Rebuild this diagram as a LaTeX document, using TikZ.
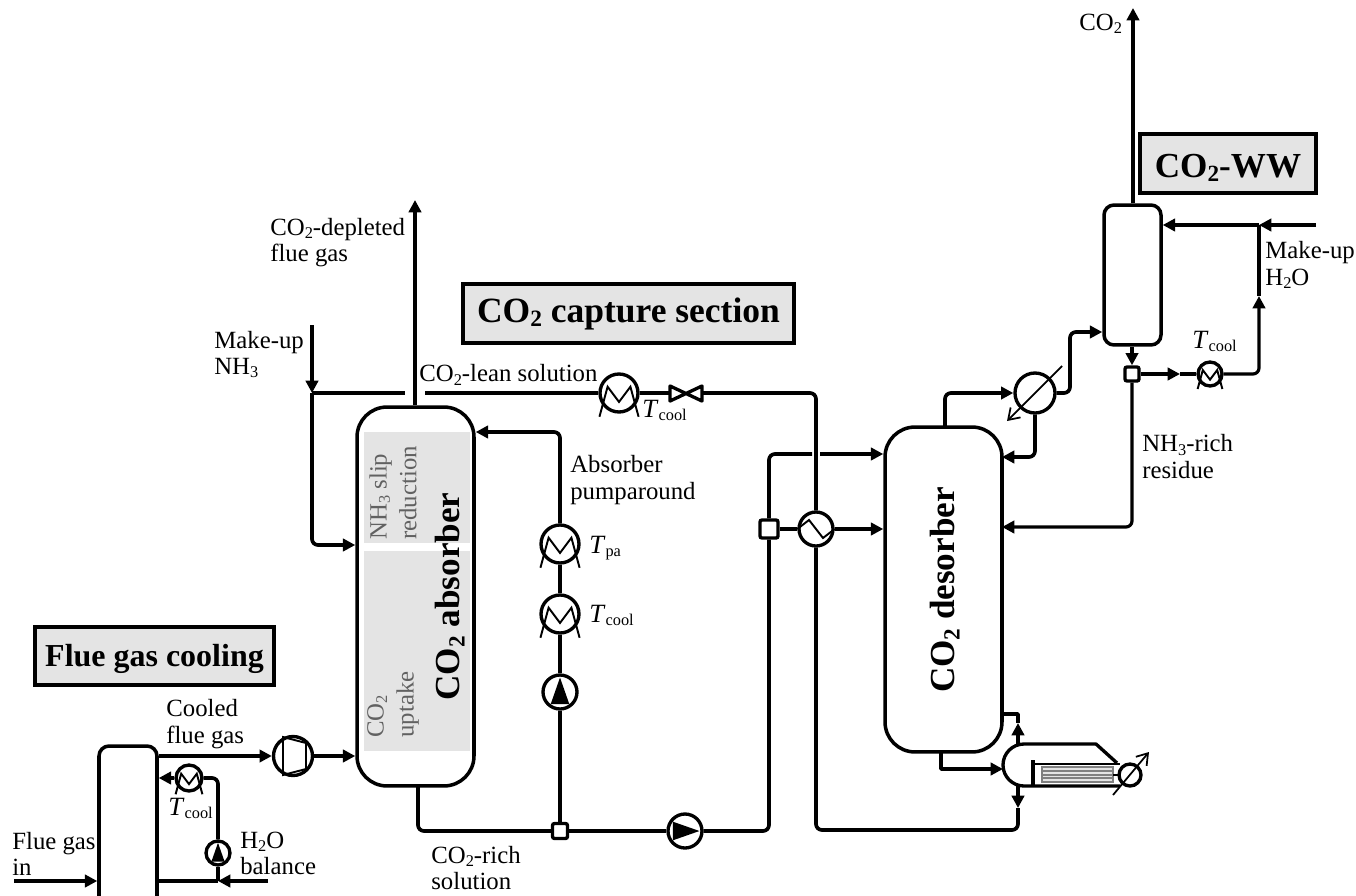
\documentclass[tikz,border=0pt]{standalone}
\usepackage{fontspec}
\setmainfont{Liberation Serif}
\usetikzlibrary{arrows.meta, calc, positioning}
\newcommand{\subs}[1]{\raisebox{-0.3ex}{\scalebox{0.66}{#1}}}
\newcommand{\Tsym}[1]{{\fontsize{15}{15}\selectfont\textit{T}}\subs{#1}}
\definecolor{panelgray}{HTML}{E4E4E4}

\begin{document}
\begin{tikzpicture}[% one unit is one pixel of the sheet
         x = 0.02cm, y = -0.02cm,
         > = {Triangle[length=7pt,width=7pt]},
pipe/.style = {line width=2.1pt, line join=round},
pipebend/.style = {line width=2.1pt, line join=round, rounded corners=0.12cm},
feed/.style = {line width=1.8pt},
feedbend/.style = {line width=1.8pt, rounded corners=0.12cm},
tank/.style = {draw, line width=2pt, rectangle, inner sep=0pt},
tagbox/.style = {draw, line width=2.1pt, fill=panelgray, inner sep=0pt,
              font=\bfseries},
txt/.style = {inner sep=0pt, anchor=west, align=left, xshift=-0.02cm,
              font=\fontsize{14.1}{15}\selectfont},
templabel/.style = {inner sep=0pt, anchor=base west,
               font=\fontsize{14.1}{15}\selectfont},
inzone/.style = {inner sep=0pt, anchor=west, align=left, rotate=90,
                 text=black!62, font=\fontsize{14.1}{17}\selectfont},
vertname/.style = {inner sep=0pt, rotate=90,
               font=\fontsize{20}{24}\bfseries\selectfont},
disc/.style = {draw, circle, line width=1.9pt, inner sep=0pt},
junction/.style = {draw, rectangle, line width=1.9pt, fill=white,
                   rounded corners=0.04cm, inner sep=0pt, minimum size=0.3cm}
                        ]
	\useasboundingbox (0,0) rectangle (1356,896);

	% zones behind the absorber
	\node (zoneslip) [fill=panelgray, inner sep=0pt, minimum width=2.12cm, minimum height=2.22cm] at (417,487.5) {};
	\node (zoneuptake) [fill=panelgray, inner sep=0pt, minimum width=2.12cm, minimum height=4cm] at (417,651) {};

	% columns
	\node (scrubber) [tank, rounded corners=0.2cm, minimum width=1.16cm, minimum height=3.2cm] at (128,826) {};
	\node (absorber) [tank, rounded corners=0.6cm, minimum width=2.34cm, minimum height=7.58cm] at (415.5,596.5) {};
	\node (desorber) [tank, rounded corners=0.6cm, minimum width=2.34cm, minimum height=6.5cm] at (943.5,589.5) {};
	\node (washer) [tank, rounded corners=0.2cm, minimum width=1.14cm, minimum height=2.8cm] at (1132.5,275) {};

	% section tags
	\node (tagcapture) [tagbox, minimum width=6.62cm, minimum height=1.18cm, font=\fontsize{20.2}{24}\bfseries\selectfont] at (628.5,313.5) {CO\subs{2} capture section};
	\node (tagcooling) [tagbox, minimum width=4.78cm, minimum height=1.16cm, text height=15pt, text depth=3.2pt, font=\fontsize{18.2}{22}\bfseries\selectfont] at (154.5,656) {Flue gas cooling};
	\node (tagww) [tagbox, minimum width=3.52cm, minimum height=1.18cm, text height=17pt, text depth=1.6pt, font=\fontsize{20}{24}\bfseries\selectfont] at (1228,163.5) {CO\subs{2}-WW};

	% coolers
	\foreach \n/\x/\y/\r in {hxscrub/189/778/13, hxlean/619/393/19, hxpa/560/544/19,
	                         hxpb/560/614/19, hxww/1210/374/12}{
		\node (\n) [disc, minimum size=\r*0.04cm] at (\x,\y) {};
		\draw [line width=1.1pt, shift={(\n.center)}, scale=\r]
			(-1.03,1.25) -- (-0.6,-0.33) -- (0,0.47) -- (0.6,-0.33) -- (1.03,1.25);
	}
	% pumps
	\foreach \n/\x/\y/\r/\a in {pumpwater/218/853/12/0, pumpa/560/692/17/0, pumprich/685/831/17/-90}{
		\node (\n) [disc, minimum size=\r*0.04cm] at (\x,\y) {};
		\fill [shift={(\n.center)}, rotate=\a, scale=\r]
			(0,-0.85) -- (0.55,0.72) -- (-0.55,0.72) -- cycle;
	}
	% blower
	\node (blower) [disc, minimum size=0.78cm] at (293,756) {};
	\draw [line width=1.1pt] (283,737) -- (306,743) -- (306,769) -- (283,775) -- cycle;
	% cross exchanger
	\node (hxcross) [disc, minimum size=0.68cm] at (816,529) {};
	\draw [line width=1.1pt] (hxcross.west) -- (809,520) -- (823,538) -- (hxcross.east);
	% condenser
	\node (condenser) [disc, minimum size=0.8cm] at (1035,393) {};
	\coordinate (condtail) at (1062,366);
	\coordinate (condtip) at (1007,421);
	\draw [line width=1pt, -{Straight Barb[length=6pt,width=8pt]}] (condtail) -- (condtip);
	% valve
	\draw [line width=1.9pt, line join=round, fill=white] (670,386) -- (702,401) -- (702,386) -- (670,401) -- cycle;
	\coordinate (valvein) at (670,393);
	\coordinate (valveout) at (702,393);
	% splitters
	\node (splitrich) [junction] at (560,831) {};
	\node (splitcross) [junction, minimum size=0.36cm] at (769,529) {};
	\node (splitww) [junction, minimum size=0.28cm] at (1132,374) {};

	% reboiler
	\coordinate (rebtop) at (1018,744);
	\coordinate (rebbot) at (1018,786);
	\coordinate (rebleft) at (1003,769);
	\draw [line width=1.9pt, line join=round] (1117,763) -- (1096,744) -- (1024,744) arc[start angle=270,end angle=90,radius=21] -- (1120,786);
	\draw [line width=1.4pt] (1033,764) -- (1120,764);
	\draw [line width=2pt] (1033,760) -- (1033,786);
	\node (bundle) [draw=gray, thick, fill=panelgray, inner sep=0pt, minimum width=1.42cm, minimum height=0.3cm] at (1077.5,774.5) {};
	\foreach \y in {771,775,778}
		\draw [gray, thick] (1042,\y) -- (1113,\y);
	\draw [line width=1.4pt] (1113,775) -- (1119,775);
	\node (rebheat) [disc, fill=white, minimum size=0.44cm] at (1130,775) {};
	\coordinate (rebtail) at (1113,795);
	\coordinate (rebtip) at (1149,752);
	\draw [line width=1pt, -{Straight Barb[length=6pt,width=8pt]}] (rebtail) -- (rebtip);

	% flue gas side
	\coordinate (fluein) at (14,881);
	\coordinate (waterin) at (268,881);
	\coordinate (tee) at (218,881);
	\coordinate (coolin) at (357,756);
	\draw [pipe, ->] (fluein) -- (fluein -| scrubber.west);
	\draw [pipe] (tee -| scrubber.east) -- (tee);
	\draw [pipe, ->] (waterin) -- (tee);
	\draw [pipe] (tee) -- (pumpwater);
	\draw [pipebend] (pumpwater) |- (hxscrub);
	\draw [pipe, ->] (hxscrub) -- (hxscrub -| scrubber.east);
	\draw [pipe, ->] (blower -| scrubber.east) -- (blower);
	\draw [pipe, ->] (blower) -- (coolin -| absorber.west);

	% absorber
	\coordinate (fluegasout) at (415,200);
	\coordinate (nhfeed) at (312,325);
	\coordinate (nhtee) at (312,393);
	\coordinate (leangap) at (405,393);
	\coordinate (leanrest) at (425,393);
	\coordinate (nhin) at (312,545);
	\coordinate (richout) at (418,786);
	\coordinate (parett) at (560,432);
	\draw [pipe, ->] (absorber.north -| fluegasout) -- (fluegasout);
	\draw [pipe, ->] (nhfeed) -- (nhtee);
	\draw [pipe] (nhtee) -- (leangap);
	\draw [pipe] (leanrest) -- (hxlean);
	\draw [pipe] (hxlean) -- (valvein);
	\draw [pipebend, ->] (nhtee) |- (nhin -| absorber.west);
	\draw [pipebend] (richout) |- (splitrich);
	\draw [pipe] (splitrich) -- (pumpa);
	\draw [pipe] (pumpa) -- (hxpb);
	\draw [pipe] (hxpb) -- (hxpa);
	\draw [pipebend, ->] (hxpa) |- (parett -| absorber.east);
	\draw [pipe] (splitrich) -- (pumprich);

	% desorber
	\coordinate (richtop) at (769,454);
	\coordinate (crossgapa) at (812,454);
	\coordinate (crossgapb) at (820,454);
	\coordinate (leandown) at (1018,830);
	\coordinate (leanbend) at (816,830);
	\coordinate (leanmid) at (1018,808);
	\coordinate (botout) at (941,752);
	\coordinate (retside) at (1002,714);
	\coordinate (retmid) at (1018,723);
	\coordinate (vapour) at (945,427);
	\coordinate (refluxin) at (1002,457);
	\coordinate (condrun) at (1070,332);
	\draw [pipebend] (pumprich) -| (splitcross);
	\draw [pipebend] (splitcross) |- (crossgapa);
	\draw [pipe, ->] (crossgapb) -- (crossgapb -| desorber.west);
	\draw [pipe] (splitcross) -- (hxcross);
	\draw [pipe, ->] (hxcross) -- (hxcross -| desorber.west);
	\draw [pipebend] (valveout) -| (hxcross);
	\draw [pipe, ->] (rebbot) -- (leanmid);
	\draw [pipebend] (leanmid) -- (leandown) -- (leanbend) -- (hxcross);
	\draw [pipebend, rounded corners=0pt, ->] (botout) |- (rebleft);
	\draw [pipe, ->] (rebtop) -- (retmid);
	\draw [pipebend, rounded corners=0pt] (retmid) |- (retside);
	\draw [pipebend, ->] (vapour) |- (condenser);
	\draw [pipebend, ->] (condenser) -| (condrun) -- (condrun -| washer.west);
	\draw [pipebend, ->] (condenser) |- (refluxin);

	% wash section
	\coordinate (cotwoout) at (1133,8);
	\coordinate (wwmakeup) at (1316,225);
	\coordinate (wwtee) at (1259,225);
	\coordinate (wwmid) at (1259,296);
	\coordinate (wwhxarrow) at (1180,374);
	\coordinate (residue) at (1002,527);
	\draw [pipe, ->] (washer.north -| cotwoout) -- (cotwoout);
	\draw [feed, ->] (wwmakeup) -- (wwtee);
	\draw [feed, ->] (wwtee) -- (wwtee -| washer.east);
	\draw [feed, ->] (washer.south -| splitww) -- (splitww);
	\draw [feed, ->] (splitww) -- (wwhxarrow);
	\draw [feed] (wwhxarrow) -- (hxww);
	\draw [feedbend, ->] (hxww) -| (wwmid);
	\draw [feed] (wwmid) -- (wwtee);
	\draw [feedbend, ->] (splitww) |- (residue);

	% column names
	\node (nameabs) [vertname] at (450,596.5) {CO\subs{2} absorber};
	\node (namedes) [vertname] at (945,590) {CO\subs{2} desorber};
	\node (nameslip) [inzone] at (393,540) {NH\subs{3} slip\\reduction};
	\node (nameuptake) [inzone] at (393,738) {CO\subs{2}\\uptake};

	% stream labels
	\node (lblco) [txt] at (1080,24) {CO\subs{2}};
	\node (lbldepl) [txt] at (271,242.5) {CO\subs{2}-depleted\\flue gas};
	\node (lblnh) [txt] at (215,354.5) {Make-up\\NH\subs{3}};
	\node (lbllean) [txt] at (420,375) {CO\subs{2}-lean solution};
	\node (lblpa) [txt] at (571,480) {Absorber\\pumparound};
	\node (lblcooled) [txt] at (167,724) {Cooled\\flue gas};
	\node (lblflue) [txt] at (13,854) {Flue gas\\in};
	\node (lblwater) [txt] at (241,853.5) {H\subs{2}O\\balance};
	\node (lblrich) [txt] at (432,868) {CO\subs{2}-rich\\solution};
	\node (lblresidue) [txt] at (1143,456.5) {NH\subs{3}-rich\\residue};
	\node (lblhtwo) [txt] at (1266,265) {Make-up\\H\subs{2}O};

	\node (tlean) [templabel] at (642,417) {\Tsym{cool}};
	\node (tpa) [templabel] at (589,553) {\Tsym{pa}};
	\node (tpb) [templabel] at (589,622) {\Tsym{cool}};
	\node (tscrub) [templabel] at (168,815) {\Tsym{cool}};
	\node (tww) [templabel] at (1192,348) {\Tsym{cool}};
\end{tikzpicture}
\end{document}
